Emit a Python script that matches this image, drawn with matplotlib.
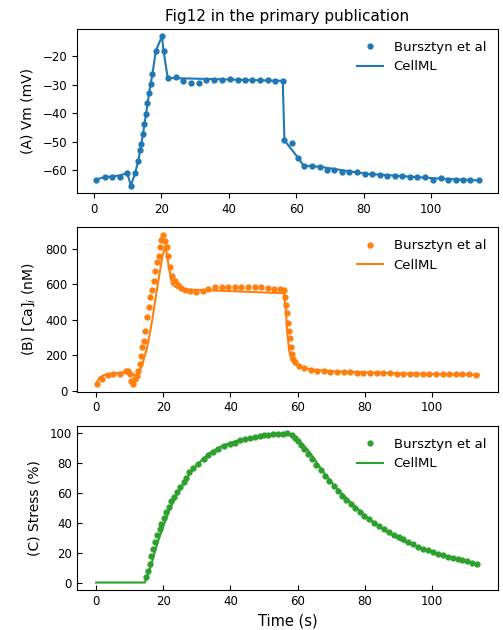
import matplotlib.pyplot as plt
import numpy as np

# --- (A) membrane potential ---
vm_exp_t = [0.7, 3.2, 5.4, 7.9, 9.9, 11.0, 12.3, 13.2, 13.7, 14.1, 14.6, 15.0, 15.5, 15.9,
            16.4, 16.9, 17.4, 18.4, 20.2, 20.7, 21.9, 24.4, 26.5, 28.8, 31.2, 33.2, 35.6,
            37.9, 40.3, 42.6, 44.7, 47.0, 49.3, 51.6, 53.8, 56.0, 56.5, 58.7, 60.5, 62.2,
            64.7, 67.0, 69.1, 71.3, 73.5, 75.7, 78.0, 80.3, 82.5, 84.8, 87.0, 89.3, 91.4,
            93.7, 95.9, 98.1, 100.5, 102.8, 104.9, 107.2, 109.4, 111.6, 114.1]
vm_exp = [-63.3, -62.4, -62.4, -62.4, -60.9, -65.4, -60.9, -56.6, -53.0, -50.8, -47.3, -43.7,
          -40.2, -36.4, -32.9, -29.6, -26.1, -18.0, -13.0, -18.0, -27.6, -27.4, -28.7, -29.4,
          -29.4, -28.4, -28.4, -28.4, -28.0, -28.4, -28.4, -28.4, -28.4, -28.4, -28.7, -28.7,
          -49.5, -50.5, -55.6, -58.4, -58.4, -58.8, -60.0, -60.0, -60.7, -60.7, -60.7, -61.2,
          -61.5, -61.8, -61.9, -62.2, -62.2, -62.3, -62.3, -62.5, -63.3, -62.9, -63.3, -63.6,
          -63.6, -63.6, -63.6]
vm_sim_t = [0.7, 3.2, 5.4, 7.9, 9.9, 11.0, 12.3, 13.2, 14.6, 15.5, 16.4, 17.4, 18.4, 20.2,
            20.7, 21.9, 56.0, 56.5, 60.5, 62.2, 67.0, 80.3, 100.5, 114.1]
vm_sim = [-63.3, -62.4, -62.2, -61.8, -60.9, -65.4, -60.9, -56.6, -47.3, -40.2, -32.9, -26.1,
          -18.0, -13.0, -18.0, -27.6, -28.6, -49.5, -55.6, -58.4, -58.8, -61.2, -62.8, -63.6]

# --- (B) intracellular calcium ---
ca_exp_t = [0.3, 1.8, 3.4, 5.1, 7.1, 8.8, 9.5, 10.0, 10.5, 11.0, 11.5, 12.1, 12.6, 13.1, 13.5,
            13.8, 14.3, 14.6, 15.2, 15.7, 16.2, 16.7, 17.2, 17.6, 18.2, 18.6, 19.0, 19.4, 19.9,
            20.5, 21.0, 21.3, 21.9, 22.7, 23.5, 24.4, 25.4, 26.5, 28.0, 29.8, 31.7, 33.4, 35.3,
            37.4, 39.3, 41.3, 43.3, 45.2, 47.2, 49.2, 51.2, 53.1, 54.8, 55.9, 56.2, 56.5, 56.9,
            57.2, 57.5, 57.7, 58.0, 58.3, 58.7, 59.3, 60.5, 62.0, 63.9, 65.9, 67.8, 69.8, 71.8,
            73.7, 75.7, 77.7, 79.6, 81.6, 83.6, 85.5, 87.5, 89.5, 91.4, 93.4, 95.4, 97.3, 99.3,
            101.3, 103.2, 105.2, 107.2, 109.1, 111.1, 113.1]
ca_exp = [41, 66, 90, 94, 94, 109, 113, 94, 56, 38, 66, 85, 113, 151, 198, 245, 282, 339, 414,
          474, 527, 568, 621, 678, 725, 762, 809, 851, 879, 847, 809, 762, 700, 649, 621, 598,
          580, 568, 565, 557, 565, 574, 583, 583, 583, 583, 583, 583, 583, 583, 580, 574, 574,
          568, 527, 486, 437, 380, 335, 297, 245, 207, 179, 160, 141, 128, 117, 113, 109, 107,
          104, 104, 104, 102, 102, 100, 100, 98, 98, 94, 94, 94, 94, 94, 94, 92, 92, 92, 92, 92,
          92, 90]
ca_sim_t = [0.0, 1.0, 2.5, 5.4, 8.4, 9.5, 10.3, 11.1, 11.8, 12.8, 13.8, 15.2, 16.7, 18.2, 19.7,
            20.6, 21.6, 22.6, 24.1, 26.5, 32.0, 56.0, 56.5, 57.0, 57.5, 58.2, 59.5, 61.5, 64.4,
            71.3, 81.0, 91.0, 114.0]
ca_sim = [38, 75, 90, 98, 104, 109, 104, 90, 90, 104, 151, 245, 395, 583, 753, 819, 706, 602,
          580, 572, 568, 550, 452, 320, 226, 173, 147, 132, 119, 109, 104, 98, 90]

# --- (C) stress ---
st_exp_t = [15.0, 15.5, 16.0, 16.5, 17.0, 17.5, 18.2, 18.9, 19.4, 20.2, 20.9, 21.7, 22.4, 23.3,
            24.1, 25.1, 26.1, 26.8, 27.7, 29.0, 30.5, 32.0, 33.2, 34.9, 36.4, 38.1, 40.0, 41.3,
            43.0, 44.5, 45.9, 47.3, 48.7, 49.9, 51.3, 52.8, 54.1, 55.6, 57.0, 58.3, 59.3, 60.1,
            61.0, 61.9, 63.0, 64.2, 65.6, 67.1, 68.3, 69.5, 70.8, 72.1, 73.3, 74.5, 75.9, 77.2,
            78.6, 79.9, 81.4, 82.9, 84.3, 85.7, 87.2, 88.6, 90.1, 91.5, 92.9, 94.4, 95.9, 97.3,
            98.8, 100.3, 101.8, 103.2, 104.7, 106.2, 107.7, 109.1, 110.6, 112.1, 113.4]
st_exp = [3.8, 7.8, 12.7, 17.6, 22.7, 27.1, 31.6, 35.6, 39.3, 43.3, 47.1, 50.9, 54.4, 57.6,
          60.4, 63.8, 67.1, 70.4, 73.8, 76.7, 79.3, 82.7, 85.6, 87.8, 89.8, 91.6, 92.7, 93.8,
          95.3, 96.2, 97.1, 97.6, 98.2, 98.7, 98.9, 99.3, 99.8, 99.8, 100.0, 98.9, 96.7, 94.9,
          92.2, 89.3, 86.0, 82.7, 78.9, 75.3, 71.6, 68.2, 64.9, 61.6, 58.2, 55.3, 52.7, 50.0,
          47.6, 44.9, 42.7, 40.2, 38.2, 36.0, 34.0, 32.2, 30.4, 28.9, 27.1, 25.6, 23.8, 22.7,
          21.6, 20.4, 19.3, 18.4, 17.1, 16.4, 15.6, 14.9, 14.2, 13.3, 12.7]
st_sim_t = [0.0, 14.5, 16.2, 18.2, 20.2, 22.1, 24.1, 27.0, 30.0, 33.9, 37.9, 41.8, 46.7, 51.6,
            56.5, 58.0, 60.5, 63.4, 67.4, 71.3, 76.2, 81.1, 86.0, 91.0, 95.9, 100.8, 105.7,
            110.6, 114.0]
st_sim = [0.0, 0.0, 10.4, 26.0, 39.0, 50.0, 59.0, 70.0, 79.0, 87.0, 92.0, 95.0, 97.0, 99.0,
          100.0, 99.0, 95.0, 88.0, 75.0, 64.0, 53.0, 43.0, 35.0, 28.0, 24.0, 20.0, 17.0, 14.0,
          12.0]

colors = ['#1f77b4', '#ff7f0e', '#2ca02c']
panels = [
    (vm_exp_t, vm_exp, vm_sim_t, vm_sim, '(A) Vm (mV)'),
    (ca_exp_t, ca_exp, ca_sim_t, ca_sim, '(B) [Ca]$_i$ (nM)'),
    (st_exp_t, st_exp, st_sim_t, st_sim, '(C) Stress (%)'),
]

fig, axes = plt.subplots(3, 1, figsize=(5.03, 6.30), dpi=100)
fig.subplots_adjust(left=0.153, right=0.99, top=0.954, bottom=0.0635, hspace=0.21)

for ax, (te, ye, ts, ys, lab), c in zip(axes, panels, colors):
    ax.plot(te, ye, 'o', color=c, markersize=3.5, label='Bursztyn et al')
    ax.plot(ts, ys, '-', color=c, linewidth=1.5, label='CellML')
    ax.set_ylabel(lab, fontsize=10, labelpad=6)
    ax.tick_params(labelsize=8.5)
    ax.set_xticks([0, 20, 40, 60, 80, 100])
    ax.legend(frameon=False, loc='upper right', fontsize=9.5)

# bottom panel uses inward ticks
axes[2].tick_params(direction='in')

axes[0].set_title('Fig12 in the primary publication', fontsize=11)
axes[2].set_xlabel('Time (s)', fontsize=10.5)

plt.savefig('out.png', dpi=100)
